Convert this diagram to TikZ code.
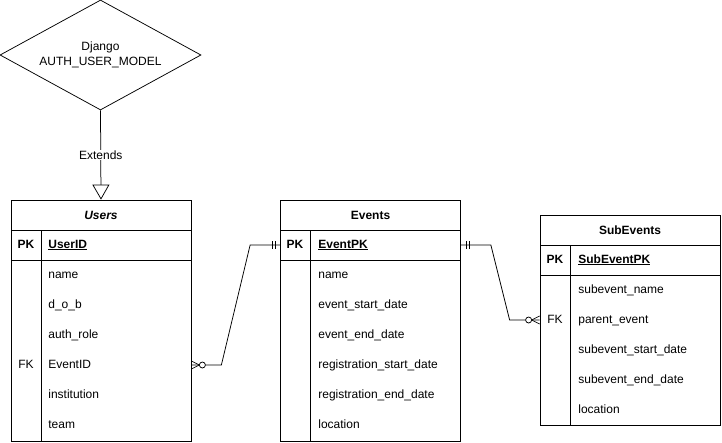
\documentclass[tikz,border=0pt]{standalone}
\usepackage{fontspec}
\setmainfont{Liberation Sans}
\usetikzlibrary{arrows.meta,shapes.geometric,calc}

\begin{document}
\begin{tikzpicture}[x=1pt,y=-1pt,line width=0.75pt,font=\fontsize{12}{15}\selectfont,
  entity/.style={draw,rectangle,inner sep=0pt,minimum width=180pt},
  fld/.style={anchor=west,inner sep=0pt,text height=9pt,text depth=3pt},
  key/.style={inner sep=0pt,text height=9pt,text depth=3pt},
  bold/.style={font=\fontsize{12}{15}\selectfont\bfseries},
  title/.style={inner sep=0pt,bold},
  zeromany/.pic={\draw (0,-4) -- (8,0) -- (0,4); \draw[fill=white] (11,0) circle (3);},
  onlyone/.pic={\draw (5,-4) -- (5,4) (8,-4) -- (8,4);}]
\useasboundingbox (0,0) rectangle (722,442);

% base model
\node[draw,diamond,aspect=1.83,inner sep=0pt,minimum width=201pt,minimum height=110pt,align=center] (django) at (100.5,55) {Django\\AUTH\_USER\_MODEL};

% Users
\node[entity,minimum height=241pt] (users) at (101,320.5) {};
\node[title,font=\fontsize{12}{15}\selectfont\bfseries\itshape] (users-title) at (101,215) {Users};
\draw (11,230) -- (191,230) (11,260) -- (191,260) (41,230) -- (41,441);
\node[key,bold] (users-pk) at (26,245) {PK};
\node[fld,bold] (users-id) at (48,245) {\underline{UserID}};
\foreach \f [count=\i] in {name,d\_o\_b,auth\_role,EventID,institution,team}
  \node[fld] (users-\i) at (48,245+30*\i) {\f};
\node[key] (users-fk) at (26,365) {FK};

% Events
\node[entity,minimum height=241pt] (events) at (370.5,320.5) {};
\node[title] (events-title) at (370.5,215) {Events};
\draw (280,230) -- (461,230) (280,260) -- (461,260) (310,230) -- (310,441);
\node[key,bold] (events-pk) at (295,245) {PK};
\node[fld,bold] (events-id) at (318,245) {\underline{EventPK}};
\foreach \f [count=\i] in {name,event\_start\_date,event\_end\_date,registration\_start\_date,registration\_end\_date,location}
  \node[fld] (events-\i) at (318,245+30*\i) {\f};

% SubEvents
\node[entity,minimum height=210pt] (subevents) at (630,320) {};
\node[title] (subevents-title) at (630,230) {SubEvents};
\draw (540,245) -- (720,245) (540,275) -- (720,275) (570,245) -- (570,425);
\node[key,bold] (subevents-pk) at (555,260) {PK};
\node[fld,bold] (subevents-id) at (578,260) {\underline{SubEventPK}};
\foreach \f [count=\i] in {subevent\_name,parent\_event,subevent\_start\_date,subevent\_end\_date,location}
  \node[fld] (subevents-\i) at (578,260+30*\i) {\f};
\node[key] (subevents-fk) at (555,320) {FK};

% relations
\draw[-{Triangle[open,length=15pt,width=17pt]}] (django.south) -- node[fill=white,inner sep=1pt] {Extends} (users.north);
\draw (users.east |- users-4) -- ++(30,0) -- ($(events.west |- events-id)+(-30,0)$) -- (events.west |- events-id);
\draw (events.east |- events-id) -- ++(30,0) -- ($(subevents.west |- subevents-2)+(-30,0)$) -- (subevents.west |- subevents-2);
\pic at (users.east |- users-4) {zeromany};
\pic[xscale=-1] at (events.west |- events-id) {onlyone};
\pic at (events.east |- events-id) {onlyone};
\pic[xscale=-1] at (subevents.west |- subevents-2) {zeromany};
\end{tikzpicture}
\end{document}
